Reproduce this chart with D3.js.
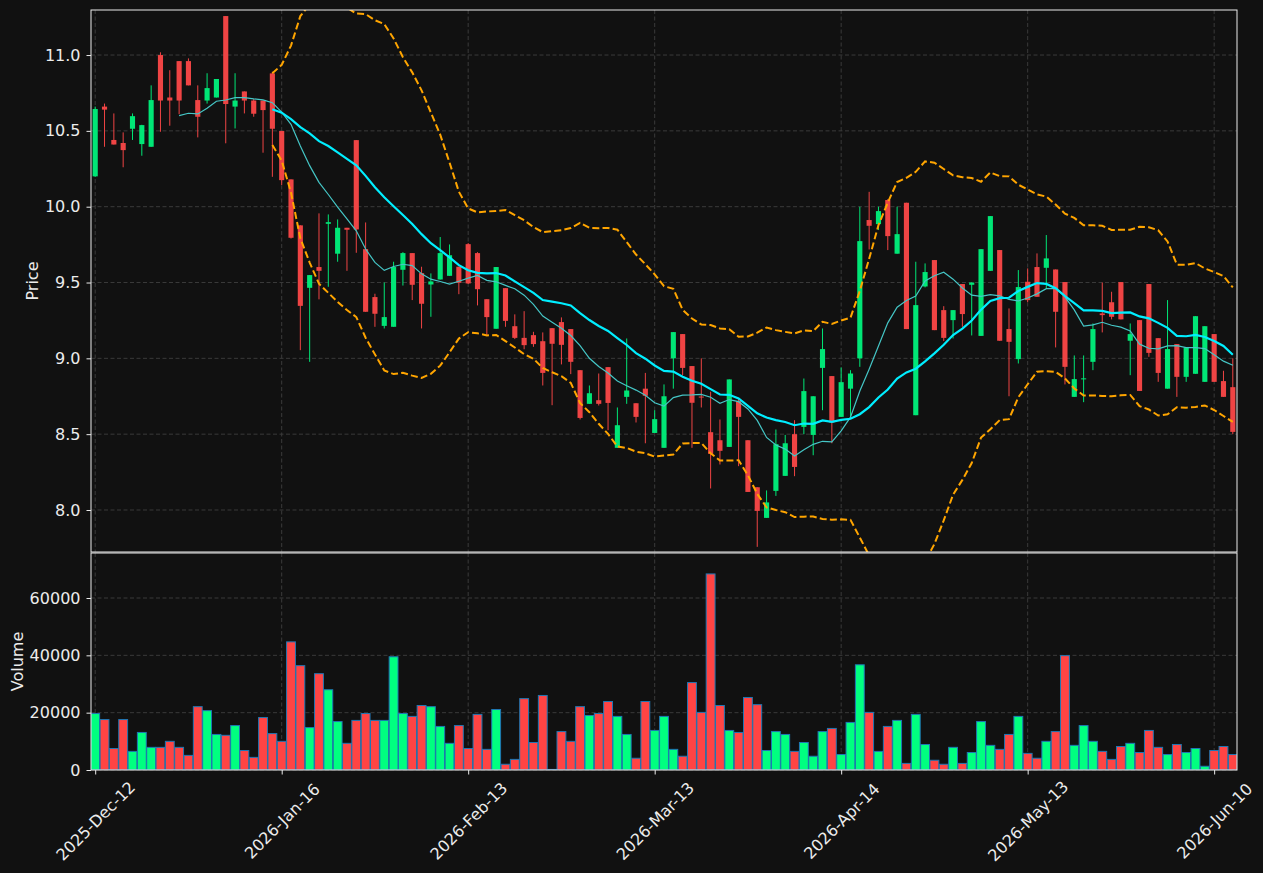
<!DOCTYPE html>
<html>
<head>
<meta charset="utf-8">
<script src="https://cdn.jsdelivr.net/npm/d3@7/dist/d3.min.js"></script>
<style>
  body { margin: 0; background: #111111; }
  svg { display: block; }
</style>
</head>
<body>
<div id="chart"></div>
<script>
// OHLC, one entry per trading day (index 0..122)
const opens = [10.20,10.66,10.44,10.42,10.514,10.413,10.395,11.0,10.72,10.96,10.96,10.703,10.70,10.72,11.257,10.66,10.76,10.70,10.70,10.879,
  10.499,10.18,9.877,9.465,9.602,9.887,9.69,9.861,10.439,9.72,9.404,9.214,9.208,9.584,9.694,9.562,9.487,9.52,9.544,9.604,
  9.753,9.694,9.39,9.195,9.463,9.212,9.135,9.153,9.113,9.199,9.239,9.193,8.922,8.70,8.724,8.942,8.41,8.746,8.704,8.80,
  8.508,8.41,9.0,9.16,8.949,8.748,8.513,8.46,8.416,8.718,8.46,8.15,7.948,8.126,8.225,8.50,8.548,8.495,8.937,8.883,
  8.614,8.80,9.0,9.912,9.885,10.044,9.69,10.026,8.625,9.474,9.648,9.318,9.252,9.49,9.485,9.148,9.577,9.714,9.193,8.995,
  9.505,9.602,9.597,9.586,9.503,8.746,8.864,8.977,9.296,9.37,9.503,9.116,9.252,9.49,9.133,8.80,9.094,8.878,8.898,8.845,
  9.16,8.85,8.81];
const highs = [10.66,10.68,10.615,10.49,10.615,10.54,10.80,11.018,10.90,10.96,10.978,10.80,10.88,10.842,11.257,10.88,10.76,10.71,10.70,10.89,
  10.50,10.18,9.877,9.549,9.956,9.949,9.916,9.861,10.439,9.896,9.426,9.50,9.637,9.70,9.694,9.604,9.56,9.80,9.751,9.604,
  9.76,9.70,9.39,9.602,9.463,9.29,9.311,9.175,9.171,9.20,9.27,9.193,8.922,8.821,8.90,8.942,8.676,9.131,8.704,8.904,
  8.658,8.828,9.173,9.16,8.949,9.0,8.78,8.597,8.861,8.735,8.46,8.15,8.129,8.531,8.495,8.592,8.867,8.75,9.197,8.883,
  8.94,8.922,10.0,10.098,10.0,10.05,10.0,10.026,9.637,9.626,9.648,9.344,9.318,9.49,9.50,9.72,9.938,9.714,9.329,9.582,
  9.593,9.692,9.813,9.586,9.503,9.019,9.019,9.23,9.50,9.439,9.503,9.23,9.252,9.49,9.133,9.384,9.094,9.07,9.278,9.212,
  9.16,8.918,9.0];
const lows = [10.197,10.395,10.41,10.26,10.44,10.336,10.395,10.494,10.534,10.61,10.80,10.457,10.68,10.72,10.418,10.516,10.615,10.593,10.356,10.197,
  10.142,9.79,9.054,8.977,9.389,9.472,9.637,9.577,9.696,9.307,9.208,9.197,9.208,9.48,9.384,9.197,9.274,9.52,9.544,9.423,
  9.49,9.349,9.152,9.195,9.208,9.127,9.06,9.076,8.821,8.691,8.96,8.896,8.597,8.70,8.689,8.526,8.41,8.70,8.577,8.44,
  8.508,8.41,8.80,8.889,8.41,8.676,8.142,8.30,8.416,8.289,8.119,7.757,7.948,8.093,8.225,8.223,8.50,8.361,8.658,8.44,
  8.614,8.614,8.944,9.718,9.846,9.714,9.69,9.193,8.625,9.468,9.186,9.114,9.131,9.208,9.151,9.148,9.577,9.116,8.75,8.966,
  9.37,9.406,9.461,9.072,8.828,8.746,8.711,8.922,9.171,9.257,9.257,8.889,8.785,9.01,8.845,8.80,8.746,8.845,8.898,8.845,
  8.845,8.746,8.50];
const closes = [10.644,10.64,10.41,10.373,10.597,10.538,10.703,10.70,10.70,10.70,10.80,10.593,10.782,10.842,10.677,10.70,10.70,10.613,10.637,10.514,
  10.175,9.795,9.346,9.549,9.577,9.898,9.861,9.848,9.85,9.307,9.294,9.272,9.602,9.694,9.485,9.36,9.507,9.694,9.68,9.498,
  9.494,9.456,9.272,9.602,9.247,9.135,9.087,9.094,8.904,9.096,9.089,8.977,8.607,8.77,8.70,8.706,8.559,8.788,8.614,8.753,
  8.599,8.75,9.173,8.937,8.707,8.742,8.37,8.39,8.861,8.614,8.119,7.994,8.05,8.434,8.44,8.284,8.784,8.75,9.061,8.577,
  8.843,8.90,9.773,9.874,9.971,9.806,9.819,9.193,9.351,9.569,9.186,9.135,9.318,9.292,9.50,9.72,9.938,9.116,9.109,9.47,
  9.384,9.406,9.659,9.307,8.944,8.863,8.868,9.193,9.285,9.274,9.257,9.16,8.785,9.036,8.904,9.061,8.878,9.07,9.278,9.212,
  8.845,8.746,8.515];
const volumes = [19700,17600,7500,17600,6500,13100,7900,7900,10000,7900,5100,22100,20700,12400,12100,15500,6800,4400,18300,12700,
  10000,44700,36400,14800,33600,28000,16900,9300,17300,19700,17300,17300,39500,19700,18700,22500,22100,15200,9300,15500,
  7500,19400,7200,21100,2000,3700,24900,9600,26000,200,13400,10000,22100,19000,19700,23900,18700,12400,4100,23900,
  13800,18700,7200,4800,30500,20100,68400,22500,13800,13100,25300,22800,6800,13400,12400,6500,9600,4800,13400,14500,
  5400,16600,36700,20100,6500,15200,17300,2300,19400,8900,3400,2000,7900,2300,6100,16900,8600,7200,12400,18700,
  5800,4100,10000,13400,39900,8600,15500,10000,6500,3700,8200,9300,6100,13800,7900,5400,8900,6100,7500,1300,
  6800,8200,5400];

// x tick labels and the candle they sit on
const tickIndex = [0, 20, 40, 60, 80, 100, 120];
const tickLabels = ["2025-Dec-12", "2026-Jan-16", "2026-Feb-13", "2026-Mar-13", "2026-Apr-14", "2026-May-13", "2026-Jun-10"];
const priceTicks = [8.0, 8.5, 9.0, 9.5, 10.0, 10.5, 11.0];
const volumeTicks = [0, 20000, 40000, 60000];

const W = 1263, H = 873;
const left = 91, right = 1237;
const main = { top: 10, bottom: 552 };
const vol = { top: 553, bottom: 770 };

const font = "DejaVu Sans, sans-serif";
const fontSize = 16;
const upCandle = "#00e676", downCandle = "#ef4444";
const upVol = "#00ff80", downVol = "#ff4444";
const textColor = "#ececec";
const gridColor = "#3a3a3a";

const data = opens.map((o, i) => ({
    i, o, h: highs[i], l: lows[i], c: closes[i], v: volumes[i], up: closes[i] >= o
}));

// rolling indicators from the closes
function rolling(n, fn) {
    return closes.map((d, i) => i < n - 1 ? null : fn(closes.slice(i - n + 1, i + 1)));
}
const ma10 = rolling(10, d3.mean);
const ma20 = rolling(20, d3.mean);
const sd20 = rolling(20, d3.deviation);
const bbUpper = ma20.map((m, i) => m == null ? null : m + 2 * sd20[i]);
const bbLower = ma20.map((m, i) => m == null ? null : m - 2 * sd20[i]);

const svg = d3.select("#chart").append("svg")
    .attr("width", W)
    .attr("height", H)
    .attr("font-family", font);

svg.append("rect").attr("width", W).attr("height", H).attr("fill", "#111111");

const x = d3.scaleLinear().domain([-0.45, 122.45]).range([left, right]);
const y = d3.scaleLinear().domain([7.723, 11.297]).range([main.bottom, main.top]);
const yv = d3.scaleLinear().domain([0, 75700]).range([vol.bottom, vol.top]);
const step = x(1) - x(0);

// clip regions
const defs = svg.append("defs");
defs.append("clipPath").attr("id", "clip-main").append("rect")
    .attr("x", left).attr("y", main.top).attr("width", right - left).attr("height", main.bottom - main.top);
defs.append("clipPath").attr("id", "clip-vol").append("rect")
    .attr("x", left).attr("y", vol.top).attr("width", right - left).attr("height", vol.bottom - vol.top);

// grids
function grid(g, yScale, ticks, top, bottom) {
    g.selectAll(".hgrid").data(ticks).join("line")
        .attr("x1", left).attr("x2", right)
        .attr("y1", d => yScale(d)).attr("y2", d => yScale(d))
        .attr("stroke", gridColor).attr("stroke-width", 1).attr("stroke-dasharray", "4,2.5");
    g.selectAll(".vgrid").data(tickIndex).join("line")
        .attr("x1", d => x(d)).attr("x2", d => x(d))
        .attr("y1", top).attr("y2", bottom)
        .attr("stroke", gridColor).attr("stroke-width", 1).attr("stroke-dasharray", "4,2.5");
}
grid(svg.append("g"), y, priceTicks, main.top, main.bottom);
grid(svg.append("g"), yv, volumeTicks, vol.top, vol.bottom);

// candles
const candles = svg.append("g").attr("clip-path", "url(#clip-main)");
candles.selectAll(".wick").data(data).join("line")
    .attr("x1", d => x(d.i)).attr("x2", d => x(d.i))
    .attr("y1", d => y(d.h)).attr("y2", d => y(d.l))
    .attr("stroke", d => d.up ? upCandle : downCandle)
    .attr("stroke-width", 1);

const bodyW = step * 0.55;
candles.selectAll(".body").data(data).join("rect")
    .attr("x", d => x(d.i) - bodyW / 2)
    .attr("width", bodyW)
    .attr("y", d => y(Math.max(d.o, d.c)))
    .attr("height", d => Math.max(1, Math.abs(y(d.o) - y(d.c))))
    .attr("fill", d => d.up ? upCandle : downCandle);

// moving averages and bands
const line = d3.line()
    .defined(d => d != null)
    .x((d, i) => x(i))
    .y(d => y(d));

const lines = svg.append("g").attr("clip-path", "url(#clip-main)");
lines.append("path").attr("d", line(ma10))
    .attr("fill", "none").attr("stroke", "#45c6c6").attr("stroke-width", 1.2);
lines.append("path").attr("d", line(ma20))
    .attr("fill", "none").attr("stroke", "#00eeff").attr("stroke-width", 2.2);
[bbUpper, bbLower].forEach(b => {
    lines.append("path").attr("d", line(b))
        .attr("fill", "none").attr("stroke", "#ffa500").attr("stroke-width", 2)
        .attr("stroke-dasharray", "7,3.2");
});

// volume bars
const barW = step * 0.95;
svg.append("g").attr("clip-path", "url(#clip-vol)")
    .selectAll("rect").data(data).join("rect")
    .attr("x", d => x(d.i) - barW / 2)
    .attr("width", barW)
    .attr("y", d => yv(d.v))
    .attr("height", d => yv(0) - yv(d.v))
    .attr("fill", d => d.up ? upVol : downVol)
    .attr("stroke", "#1f77b4")
    .attr("stroke-width", 1);

// axes
function styleAxis(g) {
    g.attr("font-family", font).attr("font-size", fontSize);
    g.selectAll(".domain").remove();
    g.selectAll(".tick line").attr("stroke", textColor);
    g.selectAll(".tick text").attr("fill", textColor);
}

svg.append("g")
    .attr("transform", `translate(${left},0)`)
    .call(d3.axisLeft(y).tickValues(priceTicks).tickFormat(d3.format(".1f")).tickSize(4.5).tickPadding(6))
    .call(styleAxis);

svg.append("g")
    .attr("transform", `translate(${left},0)`)
    .call(d3.axisLeft(yv).tickValues(volumeTicks).tickFormat(d3.format("d")).tickSize(4.5).tickPadding(6))
    .call(styleAxis);

const xAxis = svg.append("g")
    .attr("transform", `translate(0,${vol.bottom})`)
    .call(d3.axisBottom(x).tickValues(tickIndex).tickFormat((d, i) => tickLabels[i]).tickSize(4.5))
    .call(styleAxis);

xAxis.selectAll(".tick text")
    .attr("text-anchor", "middle")
    .attr("dy", "0.35em")
    .attr("y", 0)
    .attr("transform", "translate(0,51) rotate(-45)");

// frames
[main, vol].forEach(p => {
    svg.append("rect")
        .attr("x", left).attr("y", p.top)
        .attr("width", right - left).attr("height", p.bottom - p.top)
        .attr("fill", "none").attr("stroke", textColor).attr("stroke-width", 1);
});

// axis titles
svg.append("text")
    .attr("transform", `translate(38,${(main.top + main.bottom) / 2}) rotate(-90)`)
    .attr("text-anchor", "middle")
    .attr("fill", textColor)
    .attr("font-size", fontSize)
    .text("Price");

svg.append("text")
    .attr("transform", `translate(23,${(vol.top + vol.bottom) / 2}) rotate(-90)`)
    .attr("text-anchor", "middle")
    .attr("fill", textColor)
    .attr("font-size", fontSize)
    .text("Volume");
</script>
</body>
</html>
